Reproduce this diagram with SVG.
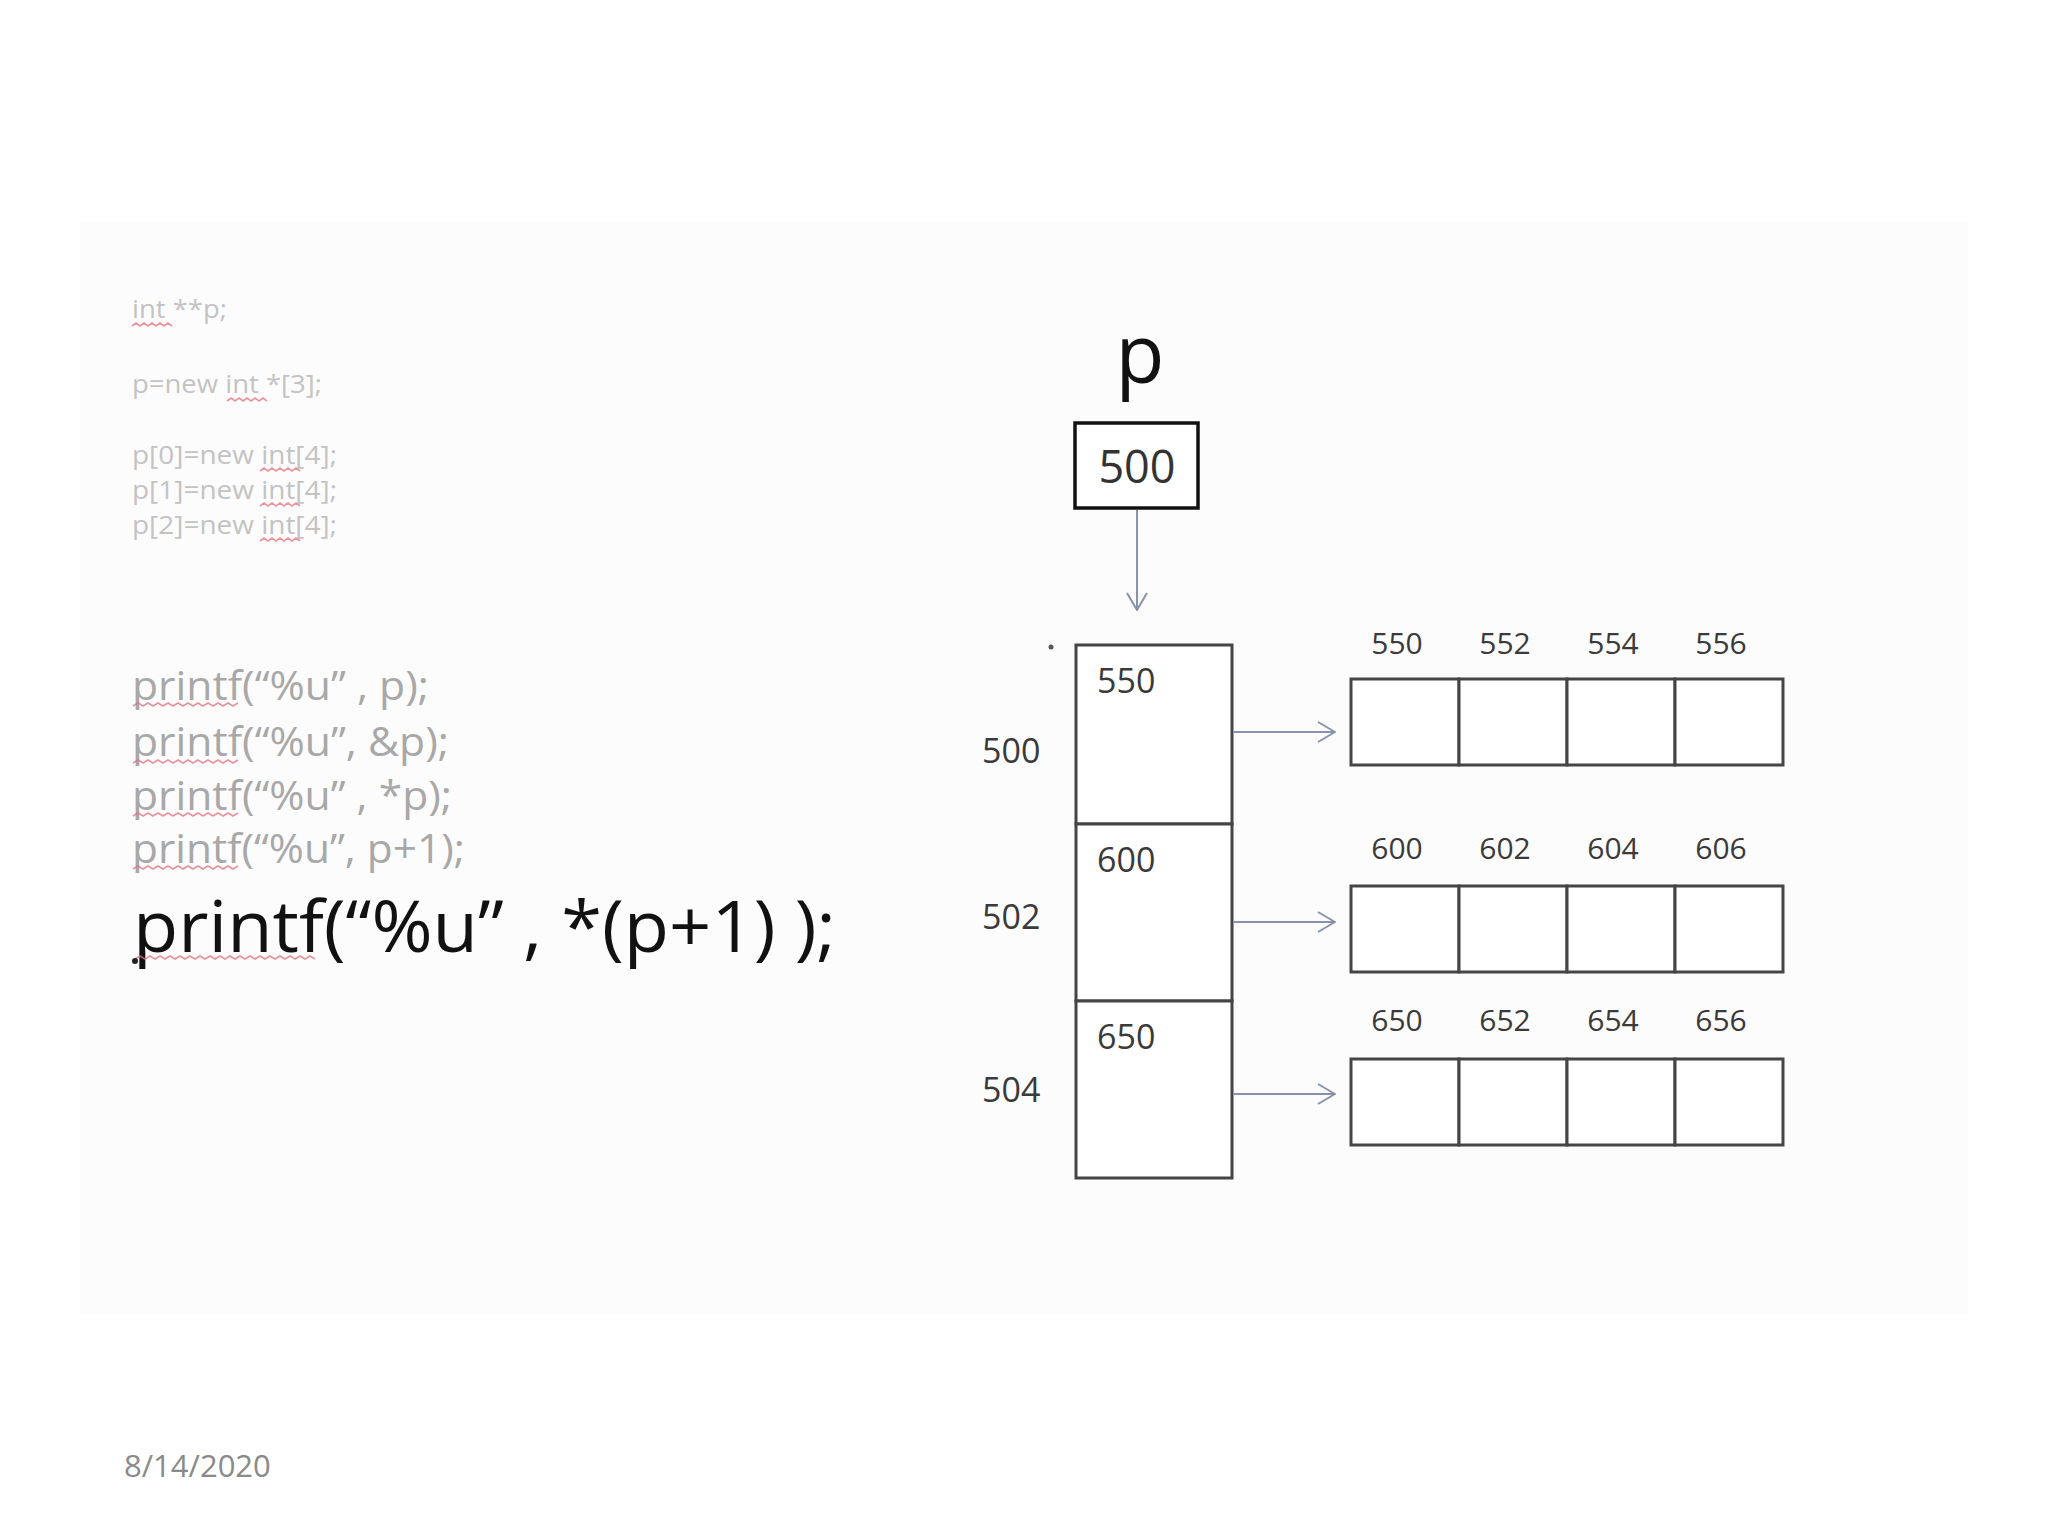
<svg xmlns="http://www.w3.org/2000/svg" width="2048" height="1536" viewBox="0 0 2048 1536">
<style>
text{font-family:"Open Sans","Noto Sans","Liberation Sans",sans-serif}
.code{fill:#c3c3c3;font-size:26px}
.pf{fill:#a8a8a8;font-size:41px}
.pfb{fill:#111;font-size:72px}
.lbl{fill:#3a3a3a;font-size:34px}
.albl{fill:#3a3a3a;font-size:30px;text-anchor:middle}
.cell{fill:#fff;stroke:#454545;stroke-width:3}
.conn{stroke:#8793ad;stroke-width:2;fill:none}
.sq{stroke:#e0707e;stroke-width:1.6;fill:none;opacity:0.75}
</style>
<defs>
<marker id="ah" viewBox="0 0 20 24" refX="19" refY="12" markerWidth="20" markerHeight="24" markerUnits="userSpaceOnUse" orient="auto">
<path d="M2,2 L19,12 L2,22" fill="none" stroke="#8793ad" stroke-width="2"/>
</marker>
</defs>
<rect width="2048" height="1536" fill="#ffffff"/>
<rect x="80" y="223" width="1888" height="1090" fill="#fdfcfd"/>

<g id="code">
<text class="code" x="132" y="318" textLength="95" lengthAdjust="spacingAndGlyphs">int **p;</text>
<text class="code" x="132" y="393" textLength="190" lengthAdjust="spacingAndGlyphs">p=new int *[3];</text>
<text class="code" x="132" y="464" textLength="205" lengthAdjust="spacingAndGlyphs">p[0]=new int[4];</text>
<text class="code" x="132" y="499" textLength="205" lengthAdjust="spacingAndGlyphs">p[1]=new int[4];</text>
<text class="code" x="132" y="534" textLength="205" lengthAdjust="spacingAndGlyphs">p[2]=new int[4];</text>
<path class="sq" d="M132,326 l4,-3 l4,3 l4,-3 l4,3 l4,-3 l4,3 l4,-3 l4,3 l4,-3 l4,3"/>
<path class="sq" d="M227,401 l4,-3 l4,3 l4,-3 l4,3 l4,-3 l4,3 l4,-3 l4,3 l4,-3 l4,3"/>
<path class="sq" d="M260,471 l4,-3 l4,3 l4,-3 l4,3 l4,-3 l4,3 l4,-3 l4,3 l4,-3 l4,3"/>
<path class="sq" d="M260,506 l4,-3 l4,3 l4,-3 l4,3 l4,-3 l4,3 l4,-3 l4,3 l4,-3 l4,3"/>
<path class="sq" d="M260,541 l4,-3 l4,3 l4,-3 l4,3 l4,-3 l4,3 l4,-3 l4,3 l4,-3 l4,3"/>
</g>

<g id="printfs">
<text class="pf" x="132" y="700" textLength="297" lengthAdjust="spacingAndGlyphs">printf(“%u” , p);</text>
<text class="pf" x="132" y="756" textLength="317" lengthAdjust="spacingAndGlyphs">printf(“%u”, &amp;p);</text>
<text class="pf" x="132" y="810" textLength="320" lengthAdjust="spacingAndGlyphs">printf(“%u” , *p);</text>
<text class="pf" x="132" y="863" textLength="333" lengthAdjust="spacingAndGlyphs">printf(“%u”, p+1);</text>
<text class="pfb" x="133" y="952" textLength="703" lengthAdjust="spacingAndGlyphs">printf(“%u” , *(p+1) );</text>
<path class="sq" d="M133,706 l5,-3 l5,3 l5,-3 l5,3 l5,-3 l5,3 l5,-3 l5,3 l5,-3 l5,3 l5,-3 l5,3 l5,-3 l5,3 l5,-3 l5,3 l5,-3 l5,3 l5,-3 l5,3 l5,-3"/>
<path class="sq" d="M133,763 l5,-3 l5,3 l5,-3 l5,3 l5,-3 l5,3 l5,-3 l5,3 l5,-3 l5,3 l5,-3 l5,3 l5,-3 l5,3 l5,-3 l5,3 l5,-3 l5,3 l5,-3 l5,3 l5,-3"/>
<path class="sq" d="M133,816 l5,-3 l5,3 l5,-3 l5,3 l5,-3 l5,3 l5,-3 l5,3 l5,-3 l5,3 l5,-3 l5,3 l5,-3 l5,3 l5,-3 l5,3 l5,-3 l5,3 l5,-3 l5,3 l5,-3"/>
<path class="sq" d="M133,869 l5,-3 l5,3 l5,-3 l5,3 l5,-3 l5,3 l5,-3 l5,3 l5,-3 l5,3 l5,-3 l5,3 l5,-3 l5,3 l5,-3 l5,3 l5,-3 l5,3 l5,-3 l5,3 l5,-3"/>
<path class="sq" d="M135,959 l5,-3 l5,3 l5,-3 l5,3 l5,-3 l5,3 l5,-3 l5,3 l5,-3 l5,3 l5,-3 l5,3 l5,-3 l5,3 l5,-3 l5,3 l5,-3 l5,3 l5,-3 l5,3 l5,-3 l5,3 l5,-3 l5,3 l5,-3 l5,3 l5,-3 l5,3 l5,-3 l5,3 l5,-3 l5,3 l5,-3 l5,3 l5,-3 l5,3"/>
<circle cx="135" cy="961" r="3" fill="#222"/>
</g>

<g id="ptr-p">
<text x="1140" y="383" font-size="80" fill="#111" text-anchor="middle">p</text>
<rect x="1075" y="423" width="123" height="85" fill="#fff" stroke="#111" stroke-width="3.5"/>
<text x="1137" y="483" font-size="45" fill="#333" text-anchor="middle">500</text>
</g>

<g id="column">
<circle cx="1051" cy="647" r="2.5" fill="#555"/>
<rect class="cell" x="1076" y="645" width="156" height="179"/>
<rect class="cell" x="1076" y="824" width="156" height="177"/>
<rect class="cell" x="1076" y="1001" width="156" height="177"/>
<text class="lbl" x="1097" y="693">550</text>
<text class="lbl" x="1097" y="872">600</text>
<text class="lbl" x="1097" y="1049">650</text>
<text class="lbl" x="982" y="763" font-size="37">500</text>
<text class="lbl" x="982" y="929">502</text>
<text class="lbl" x="982" y="1102">504</text>
</g>

<g id="row0">
<rect class="cell" x="1351" y="679" width="108" height="86"/>
<rect class="cell" x="1459" y="679" width="108" height="86"/>
<rect class="cell" x="1567" y="679" width="108" height="86"/>
<rect class="cell" x="1675" y="679" width="108" height="86"/>
<text class="albl" x="1397" y="654">550</text>
<text class="albl" x="1505" y="654">552</text>
<text class="albl" x="1613" y="654">554</text>
<text class="albl" x="1721" y="654">556</text>
</g>

<g id="row1">
<rect class="cell" x="1351" y="886" width="108" height="86"/>
<rect class="cell" x="1459" y="886" width="108" height="86"/>
<rect class="cell" x="1567" y="886" width="108" height="86"/>
<rect class="cell" x="1675" y="886" width="108" height="86"/>
<text class="albl" x="1397" y="859">600</text>
<text class="albl" x="1505" y="859">602</text>
<text class="albl" x="1613" y="859">604</text>
<text class="albl" x="1721" y="859">606</text>
</g>

<g id="row2">
<rect class="cell" x="1351" y="1059" width="108" height="86"/>
<rect class="cell" x="1459" y="1059" width="108" height="86"/>
<rect class="cell" x="1567" y="1059" width="108" height="86"/>
<rect class="cell" x="1675" y="1059" width="108" height="86"/>
<text class="albl" x="1397" y="1031">650</text>
<text class="albl" x="1505" y="1031">652</text>
<text class="albl" x="1613" y="1031">654</text>
<text class="albl" x="1721" y="1031">656</text>
</g>

<g id="connectors">
<line class="conn" x1="1137" y1="510" x2="1137" y2="610" marker-end="url(#ah)"/>
<line class="conn" x1="1234" y1="732" x2="1335" y2="732" marker-end="url(#ah)"/>
<line class="conn" x1="1234" y1="922" x2="1335" y2="922" marker-end="url(#ah)"/>
<line class="conn" x1="1234" y1="1094" x2="1335" y2="1094" marker-end="url(#ah)"/>
</g>

<g id="footer">
<text x="124" y="1477" font-size="31" fill="#8a8a8a">8/14/2020</text>
</g>
</svg>
